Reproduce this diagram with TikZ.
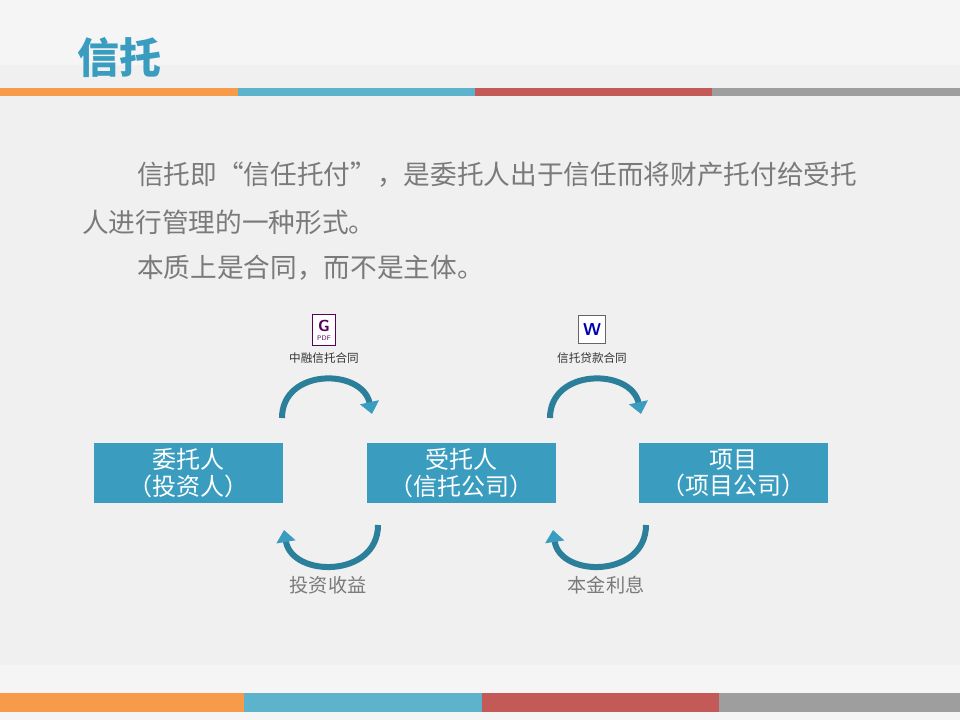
\documentclass[tikz,border=0pt]{standalone}
\usepackage{fontspec}
\setmainfont{Noto Sans CJK SC}
\usetikzlibrary{arrows.meta}
\definecolor{tblue}{HTML}{3A9DBF}
\definecolor{tdark}{HTML}{2C7F9A}
\definecolor{borange}{HTML}{F79B4B}
\definecolor{bblue}{HTML}{5DB3CB}
\definecolor{bred}{HTML}{C45A58}
\definecolor{bgray}{HTML}{9E9E9E}
\definecolor{txtgray}{HTML}{7A7A7A}
\tikzset{
  party/.style={fill=tblue, minimum width=142pt, minimum height=45pt, inner sep=0pt,
    text=white, font=\fontsize{18}{20}\selectfont, align=center},
  body/.style={anchor=west, text=txtgray, font=\fontsize{20}{22}\selectfont, inner sep=0pt},
  small/.style={font=\fontsize{8.7}{9}\selectfont, text=black!80, inner sep=0pt},
  flow/.style={line width=4.5pt, draw=tdark, -{Triangle[length=9pt,width=14pt,color=tblue]}},
  note/.style={font=\fontsize{14.4}{16}\selectfont, text=txtgray, inner sep=0pt}
}
\begin{document}
\begin{tikzpicture}[x=0.75pt,y=-0.75pt]
\useasboundingbox (0,0) rectangle (960,720);
% background
\fill[black!6] (0,0) rectangle (960,720);
\fill[black!4] (0,0) rectangle (960,65);
\fill[black!4] (0,665) rectangle (960,720);
% colour bars
\fill[borange] (0,88) rectangle (238,96);
\fill[bblue] (238,88) rectangle (475,96);
\fill[bred] (475,88) rectangle (712,96);
\fill[bgray] (712,88) rectangle (960,96);
\fill[borange] (0,693) rectangle (244,712);
\fill[bblue] (244,693) rectangle (482,712);
\fill[bred] (482,693) rectangle (719,712);
\fill[bgray] (719,693) rectangle (960,712);
% title and text
\node[anchor=west, text=tblue, font=\fontsize{31.5}{33}\selectfont\bfseries, inner sep=0pt] (title) at (77,58) {信托};
\node[body] (line1) at (137,175) {信托即“信任托付”，是委托人出于信任而将财产托付给受托};
\node[body] (line2) at (82,222) {人进行管理的一种形式。};
\node[body] (line3) at (137,268) {本质上是合同，而不是主体。};
% parties
\node[party] (investor) at (188.5,473) {委托人\\（投资人）};
\node[party] (trustee) at (461.5,473) {受托人\\（信托公司）};
\node[party] (project) at (733.5,473) {项目\\（项目公司）};
% contract icons
\node[draw=violet!70!black, fill=white, minimum width=17pt, minimum height=23pt, inner sep=0pt,
  font=\fontsize{5}{6}\selectfont\sffamily, text=violet!70!black] (pdf) at (324,330) {\shortstack{\textbf{\large G}\\PDF}};
\node[small] (pdflabel) at (324,358) {中融信托合同};
\node[fill=white, draw=black!60, minimum width=20pt, minimum height=21pt, inner sep=0pt,
  font=\fontsize{13}{13}\selectfont\bfseries\sffamily, text=blue!70!black] (word) at (592,329) {W};
\node[small] (wordlabel) at (592,358) {信托贷款合同};
% flows
\coordinate (a1) at (282,418); \coordinate (a2) at (372,414);
\coordinate (b1) at (550,418); \coordinate (b2) at (641,414);
\coordinate (c1) at (378,525); \coordinate (c2) at (284,530);
\coordinate (d1) at (646,525); \coordinate (d2) at (553,530);
\draw[flow] (a1) .. controls (282,368) and (362,368) .. (a2);
\draw[flow] (b1) .. controls (550,368) and (631,368) .. (b2);
\draw[flow] (c1) .. controls (378,578) and (292,578) .. (c2);
\draw[flow] (d1) .. controls (646,578) and (560,578) .. (d2);
\node[note] (yield) at (328,585) {投资收益};
\node[note] (interest) at (606,585) {本金利息};
\end{tikzpicture}
\end{document}
